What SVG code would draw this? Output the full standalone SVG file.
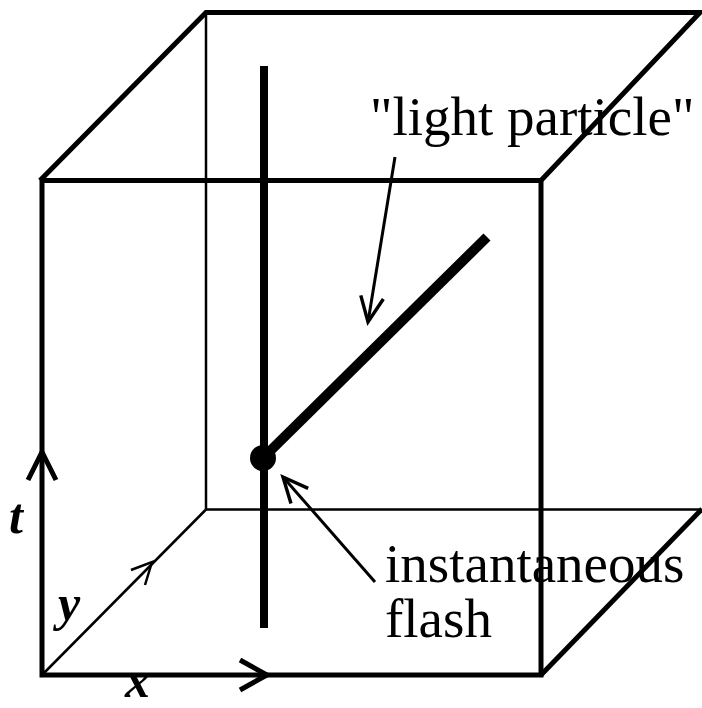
<svg xmlns="http://www.w3.org/2000/svg" width="702" height="708" viewBox="0 0 702 708">
<style>
.thick{stroke:#000;stroke-width:5;fill:none;stroke-linejoin:miter}
.thin{stroke:#000;stroke-width:2.5;fill:none}
.ptr{stroke:#000;stroke-width:3;fill:none}
.lbl{font-family:"Liberation Serif","Times New Roman",serif;font-size:55px;fill:#000}
.ax{font-family:"Liberation Serif","Times New Roman",serif;font-size:50px;font-style:italic;font-weight:bold;fill:#000}
</style>
<defs>
<marker id="open" markerUnits="userSpaceOnUse" markerWidth="40" markerHeight="40" viewBox="-30 -15 35 30" refX="0" refY="0" orient="auto">
<path d="M-22,-10 L0,0 L-22,10" fill="none" stroke="#000" stroke-width="3"/>
</marker>
</defs>
<g id="cube">
<line class="thin" x1="206" y1="12" x2="206" y2="509.5"/>
<line class="thin" x1="206" y1="509.5" x2="700" y2="509.5"/>
<line class="thin" x1="42" y1="675" x2="206" y2="509.5"/>
<polyline class="thick" points="40,180.5 206,12.5 700,12.5 541,180.5"/>
<rect class="thick" x="42" y="180.5" width="499" height="494.5"/>
<line class="thick" x1="541" y1="675" x2="702" y2="509"/>
</g>
<g id="axes">
<polyline class="thick" stroke-width="6" points="28,480 42,452 56,480"/>
<polyline class="thick" stroke-width="6" points="240,660 267,675 240,690"/>
<polyline class="thin" stroke-width="3" points="131,570 152,562 145,585"/>
<text class="ax" x="9" y="533">t</text>
<text class="ax" x="58" y="620">y</text>
<text class="ax" x="125" y="697">x</text>
</g>
<g id="worldline">
<line x1="264" y1="66" x2="264" y2="628" stroke="#000" stroke-width="8"/>
</g>
<g id="light-particle">
<line x1="263" y1="458" x2="487" y2="237" stroke="#000" stroke-width="10"/>
</g>
<g id="flash">
<circle cx="263" cy="458" r="13" fill="#000"/>
</g>
<g id="connectors">
<line class="ptr" x1="395" y1="157" x2="368" y2="322" marker-end="url(#open)"/>
<line class="ptr" x1="375" y1="582" x2="283" y2="477" marker-end="url(#open)"/>
</g>
<g id="labels">
<text class="lbl" x="370" y="135">"light particle"</text>
<text class="lbl" x="385" y="582">instantaneous</text>
<text class="lbl" x="385" y="637">flash</text>
</g>
</svg>
